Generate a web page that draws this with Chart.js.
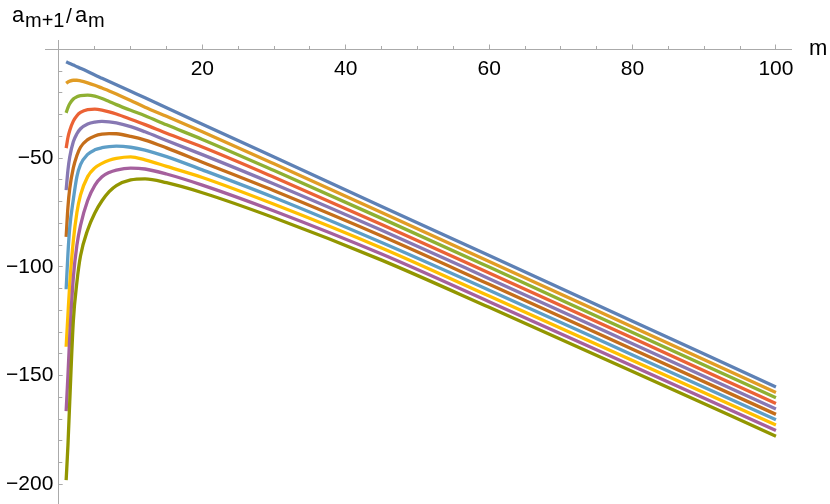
<!DOCTYPE html>
<html>
<head>
<meta charset="utf-8">
<title>a(m+1)/a(m)</title>
<script src="https://cdn.jsdelivr.net/npm/chart.js@4.4.0/dist/chart.umd.min.js"></script>
<style>
  html, body { margin: 0; padding: 0; background: #fff; }
  #wrap { width: 830px; height: 504px; }
</style>
</head>
<body>
<div id="wrap"><canvas id="ratioChart" width="830" height="504"></canvas></div>
<script>
// sample points along m (curves are continuous, so denser near m = 1)
const mValues = [1, 1.25, 1.5, 2, 2.5, 3, 4, 5, 6, 7, 8, 10, 12, 15, 20, 30, 45, 60, 80, 100];

// a_{m+1}/a_m, one array per curve, top curve first
const ratio1 = [-5.7, -6.1, -6.5, -7.2, -8.0, -8.7, -10.2, -11.8, -13.3, -14.8, -16.3, -19.3, -22.3, -26.9, -34.4, -49.5, -72.2, -94.8, -125.0, -155.2];
const ratio2 = [-15.6, -15.0, -14.6, -14.2, -14.2, -14.5, -15.4, -16.5, -17.8, -19.1, -20.5, -23.5, -26.6, -30.8, -37.9, -52.6, -75.0, -97.5, -127.6, -157.7];
const ratio3 = [-29.2, -26.8, -25.0, -22.8, -21.8, -21.3, -21.0, -21.5, -22.6, -24.0, -25.4, -28.0, -30.5, -34.7, -41.4, -55.7, -77.7, -100.1, -130.2, -160.2];
const ratio4 = [-45.4, -40.5, -37.3, -33.0, -30.5, -29.0, -27.7, -27.5, -27.9, -28.7, -29.7, -32.1, -34.6, -38.6, -44.9, -58.8, -80.5, -102.8, -132.7, -162.8];
const ratio5 = [-64.7, -55.5, -49.5, -42.5, -38.8, -36.5, -34.3, -33.4, -33.1, -33.3, -33.8, -35.5, -37.9, -41.9, -48.4, -61.9, -83.2, -105.4, -135.3, -165.3];
const ratio6 = [-86.2, -72.5, -64.0, -54.5, -48.8, -45.0, -41.5, -39.8, -39.0, -38.7, -38.8, -40.0, -41.7, -45.3, -51.9, -65.0, -85.8, -108.0, -137.9, -167.8];
const ratio7 = [-110.3, -94.0, -82.0, -69.0, -58.5, -53.0, -48.3, -46.2, -45.2, -44.7, -44.5, -45.0, -46.3, -49.3, -55.4, -68.1, -88.8, -110.7, -140.5, -170.3];
const ratio8 = [-136.7, -122.0, -108.0, -88.0, -75.0, -67.0, -58.5, -54.5, -52.4, -51.0, -50.1, -49.4, -50.8, -53.8, -58.9, -71.2, -91.3, -113.4, -143.0, -172.7];
const ratio9 = [-166.3, -150.0, -132.0, -105.0, -90.0, -81.0, -69.5, -62.5, -58.6, -56.6, -55.5, -54.6, -55.0, -57.3, -62.4, -74.3, -94.1, -116.0, -145.6, -175.2];
const ratio10 = [-198.0, -182.0, -162.0, -125.0, -107.0, -95.0, -83.0, -75.2, -69.6, -65.4, -62.6, -60.0, -59.5, -61.3, -65.9, -77.4, -96.9, -118.6, -148.1, -177.8];

// axis ticks
const xMajorTicks = [20, 40, 60, 80, 100];
const xMinorTicks = [5, 10, 15, 25, 30, 35, 45, 50, 55, 65, 70, 75, 85, 90, 95];
const yMajorTicks = [-50, -100, -150, -200];
const yMinorTicks = [-10, -20, -30, -40, -60, -70, -80, -90, -110, -120, -130, -140, -160, -170, -180, -190];

const allSeries = [ratio1, ratio2, ratio3, ratio4, ratio5, ratio6, ratio7, ratio8, ratio9, ratio10];
const lineColors = ['#5E81B5', '#E19C24', '#8FB032', '#EB6235', '#8778B3',
                    '#C56E1A', '#5D9EC7', '#FFBF00', '#A5609D', '#929600'];

const axisGray = '#aaaaaa';
const labelFont = { family: '"Liberation Sans", Arial, sans-serif', size: 21 };
const X_MIN = -1.95, X_MAX = 102.1, Y_MIN = -209, Y_MAX = 4.3;

const setTicks = values => scale => { scale.ticks = values.map(v => ({ value: v })); };
const noPadding = scale => {
  scale.paddingLeft = 0; scale.paddingRight = 0;
  scale.paddingTop = 0; scale.paddingBottom = 0;
};

// tick marks only (no labels, no border)
const tickOnlyAxis = (axis, pos, values, len) => ({
  type: 'linear', axis: axis, position: pos,
  min: axis === 'x' ? X_MIN : Y_MIN, max: axis === 'x' ? X_MAX : Y_MAX,
  afterBuildTicks: setTicks(values), afterFit: noPadding,
  border: { display: false },
  grid: { drawOnChartArea: false, drawTicks: true, tickLength: len, color: axisGray },
  ticks: { display: false },
});

const datasets = allSeries.map((series, i) => ({
  label: 'curve ' + (i + 1),
  data: mValues.map((m, j) => ({ x: m, y: series[j] })),
  borderColor: lineColors[i],
  borderWidth: 3.3,
  pointRadius: 0,
  fill: false,
  cubicInterpolationMode: 'monotone',
  order: allSeries.length - i,
}));

// axis labels: m at the end of the x axis, a_{m+1}/a_m above the y axis
const axisLabels = {
  id: 'axisLabels',
  afterDraw(chart) {
    const ctx = chart.ctx;
    const fam = labelFont.family;
    ctx.save();
    ctx.fillStyle = '#000';
    ctx.textBaseline = 'alphabetic';
    ctx.textAlign = 'left';
    ctx.font = '22px ' + fam;
    ctx.fillText('m', 809, 55);
    ctx.font = '22px ' + fam;
    ctx.fillText('a', 12, 22);
    ctx.font = '20px ' + fam;
    ctx.fillText('m+1', 25, 27);
    ctx.font = '21px ' + fam;
    ctx.fillText('/', 66, 23);
    ctx.font = '22px ' + fam;
    ctx.fillText('a', 75, 22);
    ctx.font = '20px ' + fam;
    ctx.fillText('m', 88, 27);
    ctx.restore();
  },
};

new Chart(document.getElementById('ratioChart'), {
  type: 'line',
  data: { datasets },
  options: {
    responsive: false,
    animation: false,
    layout: { padding: { left: 45, right: 39, top: 40, bottom: 0 } },
    plugins: { legend: { display: false }, tooltip: { enabled: false } },
    scales: {
      x: {
        type: 'linear', position: { y: 0 },
        min: X_MIN, max: X_MAX,
        afterBuildTicks: setTicks(xMajorTicks), afterFit: noPadding,
        border: { display: true, color: axisGray, width: 1 },
        grid: { drawOnChartArea: false, drawTicks: true, tickLength: -5.5, color: axisGray },
        ticks: { color: '#000', font: labelFont, padding: 12.5, maxRotation: 0, autoSkip: false,
                 callback: v => String(v) },
      },
      xMinor: tickOnlyAxis('x', { y: 0 }, xMinorTicks, -3),
      y: {
        type: 'linear', position: { x: 0 },
        min: Y_MIN, max: Y_MAX,
        afterBuildTicks: setTicks(yMajorTicks), afterFit: noPadding,
        border: { display: true, color: axisGray, width: 1 },
        grid: { drawOnChartArea: false, drawTicks: true, tickLength: -4.7, color: axisGray },
        ticks: { display: false },
      },
      yMinor: tickOnlyAxis('y', { x: 0 }, yMinorTicks, -3.3),
      yLabels: {
        type: 'linear', axis: 'y', position: { x: -0.79 },
        min: Y_MIN, max: Y_MAX,
        afterBuildTicks: setTicks(yMajorTicks), afterFit: noPadding,
        border: { display: false },
        grid: { display: false },
        ticks: { color: '#000', font: labelFont, autoSkip: false,
                 callback: v => '\u2212' + Math.abs(v) },
      },
    },
  },
  plugins: [axisLabels],
});
</script>
</body>
</html>
